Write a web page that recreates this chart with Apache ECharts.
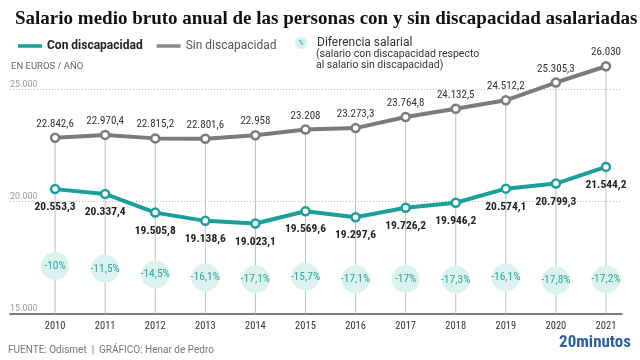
<!DOCTYPE html>
<html><head><meta charset="utf-8">
<script src="https://cdn.jsdelivr.net/npm/echarts@6/dist/echarts.min.js"></script>
<style>html,body{margin:0;padding:0;background:#fff}#c{width:640px;height:360px}</style>
</head><body><div id="c"></div>
<script>
const years = [2010, 2011, 2012, 2013, 2014, 2015, 2016, 2017, 2018, 2019, 2020, 2021];
const conDiscapacidad = [20553.3, 20337.4, 19505.8, 19138.6, 19023.1, 19569.6, 19297.6, 19726.2, 19946.2, 20574.1, 20799.3, 21544.2];
const sinDiscapacidad = [22842.6, 22970.4, 22815.2, 22801.6, 22958, 23208, 23273.3, 23764.8, 24132.5, 24512.2, 25305.3, 26030];
const diferencia = [-10, -11.5, -14.5, -16.1, -17.1, -15.7, -17.1, -17, -17.3, -16.1, -17.8, -17.2];
const yTicks = [15000, 20000, 25000];

const SANS = 'Roboto, sans-serif';
const COND = '"Roboto Condensed", Roboto, sans-serif';
const TEAL = '#1a9f9b';
const GRAY = '#7b7b7b';

function fmt(v) {
  const parts = String(v).split('.');
  const int = parts[0].replace(/\B(?=(\d{3})+(?!\d))/g, '.');
  return parts[1] ? int + ',' + parts[1] : int;
}

const chart = echarts.init(document.getElementById('c'), null, {renderer: 'canvas'});
chart.setOption({
  animation: false,
  title: {
    text: 'Salario medio bruto anual de las personas con y sin discapacidad asalariadas',
    left: 10, top: 5,
    textStyle: {fontFamily: '"Liberation Serif", serif', fontWeight: 'bold', fontSize: 19, color: '#111'}
  },
  legend: {
    left: 13, top: 35, itemWidth: 24, itemHeight: 3.5, itemGap: 14, icon: 'rect',
    textStyle: {fontFamily: SANS, fontSize: 12, color: '#222'},
    data: [
      {name: 'Con discapacidad', textStyle: {fontWeight: 'bold', color: '#222'}, itemStyle: {color: TEAL, borderWidth: 0}},
      {name: 'Sin discapacidad', textStyle: {color: '#555'}, itemStyle: {color: '#8a8a8a', borderWidth: 0}}
    ]
  },
  grid: {left: 10, right: 18, top: 44.5, bottom: 46.3},
  xAxis: {
    type: 'value', min: 2009.1, max: 2021.32,
    axisLine: {show: true, onZero: false, lineStyle: {color: '#555', width: 1.5}},
    axisTick: {show: false},
    splitLine: {show: false},
    axisLabel: {customValues: years, color: '#333', fontFamily: COND, fontSize: 10.5, margin: 7, formatter: v => String(v)}
  },
  yAxis: [{
    type: 'value', min: 15000, max: 27000, interval: 5000,
    axisLine: {show: false}, axisTick: {show: false},
    axisLabel: {inside: true, margin: 0, verticalAlign: 'bottom', showMaxLabel: false,
      color: '#999', fontFamily: SANS, fontSize: 9, padding: [0, 0, 0, 0], formatter: v => fmt(v)},
    splitLine: {show: true, lineStyle: {type: [1, 2], color: ['#bbb', '#bbb', '#bbb', 'rgba(0,0,0,0)'], width: 1}}
  }, {
    type: 'value', min: -35.6, max: 109.1, show: false
  }],
  series: [
    {
      name: 'drop', type: 'bar', barWidth: 1, silent: true, z: 1,
      itemStyle: {color: '#bdbdbd'},
      data: years.map((y, i) => [y, sinDiscapacidad[i]])
    },
    {
      name: 'Diferencia salarial', type: 'scatter', yAxisIndex: 1, symbolSize: 28, z: 2, silent: true,
      itemStyle: {color: '#dcf2ef', opacity: 1},
      label: {show: true, position: 'inside', color: '#2aa89c', fontFamily: COND, fontSize: 11.5,
        formatter: p => fmt(diferencia[p.dataIndex]) + '%'},
      data: years.map((y, i) => [y, diferencia[i]])
    },
    {
      name: 'Sin discapacidad', type: 'line', z: 3,
      symbol: 'circle', symbolSize: 8,
      lineStyle: {color: GRAY, width: 4},
      itemStyle: {color: '#fff', borderColor: GRAY, borderWidth: 2.5},
      label: {show: true, position: 'top', distance: 3, color: '#333', fontFamily: COND, fontSize: 11,
        formatter: p => fmt(sinDiscapacidad[p.dataIndex])},
      data: years.map((y, i) => [y, sinDiscapacidad[i]])
    },
    {
      name: 'Con discapacidad', type: 'line', z: 3,
      symbol: 'circle', symbolSize: 8,
      lineStyle: {color: TEAL, width: 4},
      itemStyle: {color: '#fff', borderColor: TEAL, borderWidth: 2.5},
      label: {show: true, position: 'bottom', distance: 7, color: '#222', fontWeight: 'bold', fontFamily: COND, fontSize: 11.5,
        formatter: p => fmt(conDiscapacidad[p.dataIndex])},
      data: years.map((y, i) => [y, conDiscapacidad[i]])
    }
  ],
  graphic: [
    {type: 'circle', shape: {cx: 301, cy: 43, r: 6.2}, style: {fill: '#dcf2ef'}},
    {type: 'text', x: 301, y: 43, style: {text: '%', fill: '#2aa89c', fontSize: 7, fontFamily: SANS, align: 'center', verticalAlign: 'middle'}},
    {type: 'text', x: 317, y: 43.3, style: {text: 'Diferencia salarial', fill: '#333', fontSize: 12, fontFamily: SANS, verticalAlign: 'middle'}},
    {type: 'text', x: 316, y: 60, style: {text: '(salario con discapacidad respecto\nal salario sin discapacidad)', fill: '#333', fontSize: 10.5, fontFamily: SANS, lineHeight: 11, verticalAlign: 'middle'}},
    {type: 'text', x: 11, y: 66.7, style: {text: 'EN EUROS / AÑO', fill: '#666', fontSize: 9.5, fontFamily: SANS, verticalAlign: 'middle'}},
    {type: 'text', x: 8, y: 350, style: {text: 'FUENTE: Odismet  |  GRÁFICO: Henar de Pedro', fill: '#777', fontSize: 10, fontFamily: SANS, verticalAlign: 'middle'}},
    {type: 'text', x: 631, y: 342.7, style: {text: '20minutos', fill: '#2f5f9f', fontSize: 17, fontWeight: 'bold', fontFamily: COND, align: 'right', verticalAlign: 'middle'}}
  ]
});
</script></body></html>
